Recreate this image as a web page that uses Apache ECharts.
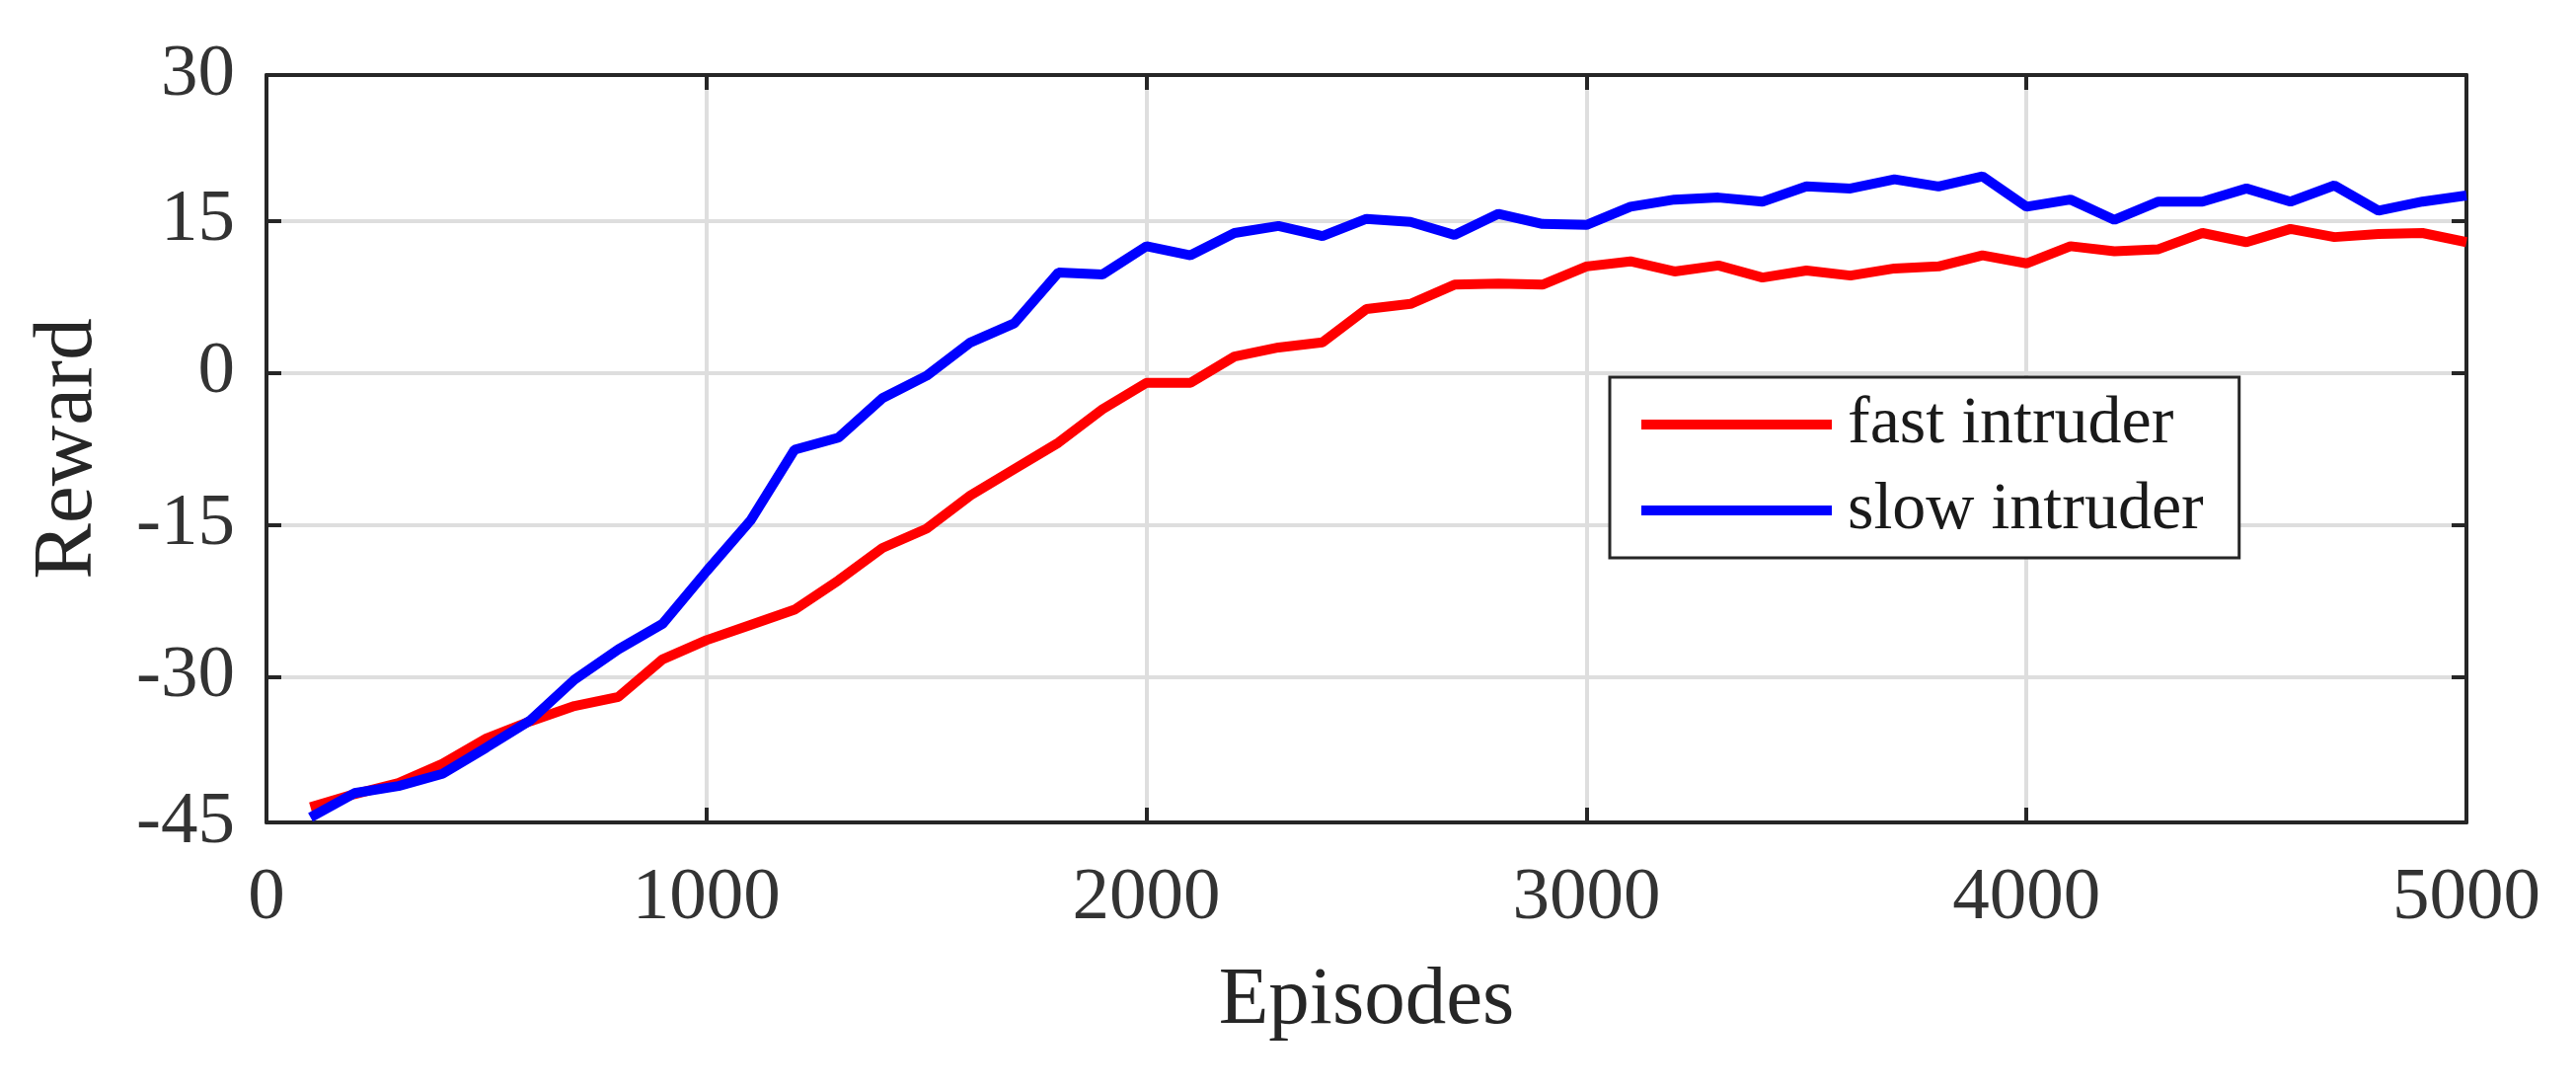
<!DOCTYPE html>
<html>
<head>
<meta charset="utf-8">
<script src="https://cdn.jsdelivr.net/npm/echarts@6/dist/echarts.min.js"></script>
<style>
html, body { margin: 0; padding: 0; background: #fff; }
#chart { width: 2610px; height: 1104px; }
</style>
</head>
<body>
<div id="chart"></div>
<script>
// x轴: episodes
const episodes = [100, 200, 300, 400, 500, 600, 700, 800, 900, 1000,
  1100, 1200, 1300, 1400, 1500, 1600, 1700, 1800, 1900, 2000,
  2100, 2200, 2300, 2400, 2500, 2600, 2700, 2800, 2900, 3000,
  3100, 3200, 3300, 3400, 3500, 3600, 3700, 3800, 3900, 4000,
  4100, 4200, 4300, 4400, 4500, 4600, 4700, 4800, 4900, 5000];
// reward curves
const fastIntruder = [-42.9, -41.6, -40.5, -38.6, -36.1, -34.4, -32.9, -32.0, -28.3, -26.4,
  -24.9, -23.4, -20.5, -17.3, -15.4, -12.1, -9.5, -6.9, -3.6, -1.0,
  -1.0, 1.6, 2.5, 3.0, 6.3, 6.8, 8.7, 8.8, 8.7, 10.5,
  11.0, 10.0, 10.6, 9.4, 10.1, 9.6, 10.3, 10.5, 11.6, 10.8,
  12.5, 12.0, 12.2, 13.8, 12.9, 14.2, 13.4, 13.7, 13.8, 12.9];
const slowIntruder = [-43.9, -41.5, -40.8, -39.6, -37.0, -34.3, -30.3, -27.3, -24.8, -19.6,
  -14.6, -7.6, -6.4, -2.5, -0.3, 3.0, 4.9, 9.9, 9.7, 12.5,
  11.6, 13.8, 14.5, 13.5, 15.2, 14.9, 13.6, 15.7, 14.7, 14.6,
  16.4, 17.1, 17.3, 16.9, 18.4, 18.2, 19.1, 18.4, 19.4, 16.4,
  17.1, 15.1, 16.9, 16.9, 18.2, 16.9, 18.5, 16.0, 16.9, 17.5];
const legendNames = ["fast intruder", "slow intruder"];
// y轴范围 (框线位置) 和刻度
const yMin = -44.4;
const yMax = 29.4;
const yTickValues = [-30, -15, 0, 15];
const yLabelValues = [-44.4, -30, -15, 0, 15, 29.4];

const chart = echarts.init(document.getElementById("chart"));

function pairs(ys) {
  return episodes.map((e, i) => [e, ys[i]]);
}

const frameLine = { show: true, onZero: false, lineStyle: { color: "#262626", width: 4 } };
const innerTick = { show: true, inside: true, length: 15, lineStyle: { color: "#262626", width: 4 } };
const serif = "Liberation Serif";

const option = {
  animation: false,
  backgroundColor: "#fff",
  grid: {
    left: 270,
    right: 111,
    top: 76,
    bottom: 271,
    outerBoundsMode: "none"
  },
  legend: {
    data: legendNames,
    orient: "vertical",
    left: 1631,
    top: 382,
    padding: [14, 36, 14, 32],
    icon: "rect",
    itemWidth: 193,
    itemHeight: 10,
    itemGap: 19,
    borderColor: "#262626",
    borderWidth: 3,
    backgroundColor: "#fff",
    textStyle: {
      fontFamily: serif,
      fontSize: 68,
      color: "#1a1a1a",
      padding: [0, 0, 0, 11]
    }
  },
  xAxis: [
    {
      type: "value",
      min: 0,
      max: 5000,
      interval: 1000,
      name: "Episodes",
      nameLocation: "middle",
      nameGap: 140,
      nameTextStyle: { fontFamily: serif, fontSize: 83, color: "#262626" },
      axisLine: frameLine,
      axisTick: innerTick,
      axisLabel: {
        margin: 40,
        fontFamily: serif,
        fontSize: 75,
        color: "#333",
        formatter: v => String(v)
      },
      splitLine: { show: true, lineStyle: { color: "#dedede", width: 4 } }
    },
    {
      type: "value",
      position: "top",
      min: 0,
      max: 5000,
      interval: 1000,
      axisLine: frameLine,
      axisTick: innerTick,
      axisLabel: { show: false },
      splitLine: { show: false }
    }
  ],
  yAxis: [
    {
      type: "value",
      min: yMin,
      max: yMax,
      name: "Reward",
      nameLocation: "middle",
      nameGap: 158,
      nameTextStyle: { fontFamily: serif, fontSize: 85, color: "#262626" },
      axisLine: frameLine,
      axisTick: Object.assign({ customValues: yTickValues }, innerTick),
      axisLabel: {
        customValues: yLabelValues,
        margin: 32,
        fontFamily: serif,
        fontSize: 75,
        color: "#333",
        formatter: v => String(Math.round(v / 15) * 15)
      },
      splitLine: { show: true, lineStyle: { color: "#dedede", width: 4 } }
    },
    {
      type: "value",
      position: "right",
      min: yMin,
      max: yMax,
      axisLine: frameLine,
      axisTick: Object.assign({ customValues: yTickValues }, innerTick),
      axisLabel: { show: false },
      splitLine: { show: false }
    }
  ],
  series: [
    {
      name: legendNames[0],
      type: "line",
      data: pairs(fastIntruder),
      symbol: "none",
      lineStyle: { color: "#ff0000", width: 10 },
      itemStyle: { color: "#ff0000" }
    },
    {
      name: legendNames[1],
      type: "line",
      data: pairs(slowIntruder),
      symbol: "none",
      lineStyle: { color: "#0000ff", width: 10 },
      itemStyle: { color: "#0000ff" }
    }
  ]
};
chart.setOption(option);
</script>
</body>
</html>
